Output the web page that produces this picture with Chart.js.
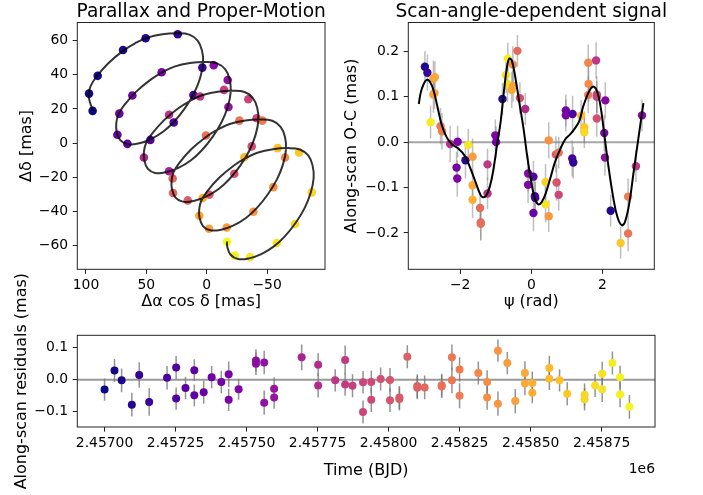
<!DOCTYPE html>
<html><head><meta charset="utf-8">
<script src="https://cdn.jsdelivr.net/npm/chart.js@4.4.1/dist/chart.umd.min.js"></script>
<style>
html,body{margin:0;padding:0;background:#fff;}
#wrap{position:relative;width:703px;height:495px;overflow:hidden;background:#fff;}
canvas{position:absolute;}
</style></head><body>
<div id="wrap">
<canvas id="c1" width="340" height="320" style="left:0;top:0;width:340px;height:320px"></canvas>
<canvas id="c2" width="363" height="320" style="left:340px;top:0;width:363px;height:320px"></canvas>
<canvas id="c3" width="703" height="235" style="left:0;top:260px;width:703px;height:235px"></canvas>
</div>
<script>
// ---------- Panel 1: parallax + proper motion ----------
const pmRA  = [94.5,97.5,90.3,69.3,50.6,24.0,3.6,11.0,27.3,46.7,65.7,74.0,72.4,61.6,37.3,-5.8,-17.4,-18.0,31.2,52.0,31.2,5.5,-14.4,-34.5,-41.4,-37.3,-22.9,-2.2,15.7,27.9,28.2,0.6,-27.1,-46.1,-64.9,-55.2,-38.7,-16.6,-1.9,6.1,3.3,-31.2,-58.8,-76.5,-87.0,-73.2,-58.0,-35.9,-23.2,-16.9];
const pmDec = [18.9,29.0,39.4,54.5,61.4,63.7,44.2,28.2,12.1,1.9,-0.4,4.9,17.3,27.9,41.5,45.6,37.0,21.2,-16.4,-8.4,16.6,27.3,31.2,25.7,14.6,-1.9,-17.9,-30.2,-33.5,-29.2,-20.7,4.5,13.2,13.2,-8.4,-25.7,-40.1,-49.3,-50.1,-42.5,-32.1,-8.2,-2.9,-5.5,-28.8,-47.3,-58.4,-66.6,-65.8,-57.7];
const pmEpochFrac = [0,0.01,0.02,0.035,0.05,0.07,0.10,0.12,0.14,0.16,0.175,0.19,0.21,0.225,0.245,0.28,0.295,0.31,0.365,0.39,0.43,0.45,0.47,0.487,0.504,0.522,0.535,0.557,0.57,0.59,0.60,0.635,0.657,0.67,0.71,0.726,0.74,0.76,0.775,0.79,0.81,0.843,0.865,0.883,0.913,0.93,0.948,0.965,0.983,1.0];
const orbitRA = [93.9,96.7,
 97.8,96.1,91.2,81.5,69.3,59.4,49.7,36.7,24.0,14.4,7.5,3.9,3.0,5.5,10.5,18.0,27.1,35.9,46.4,56.6,65.7,71.8,74.6,
 74.9,73.2,68.3,58.6,46.4,36.5,26.8,13.8,1.1,-8.5,-15.4,-19.0,-19.9,-17.4,-12.4,-4.9,4.2,13.0,23.5,33.7,42.8,48.9,51.7,
 52.0,50.3,45.4,35.7,23.5,13.6,3.9,-9.1,-21.8,-31.4,-38.3,-41.9,-42.8,-40.3,-35.3,-27.8,-18.7,-9.9,0.6,10.8,19.9,26.0,28.8,
 29.1,27.4,22.5,12.8,0.6,-9.3,-19.0,-32.0,-44.7,-54.3,-61.2,-64.8,-65.7,-63.2,-58.2,-50.7,-41.6,-32.8,-22.3,-12.1,-3.0,3.1,5.9,
 6.2,4.5,-0.4,-10.1,-22.3,-32.2,-41.9,-54.9,-67.6,-77.2,-84.1,-87.7,-88.6,-86.1,-81.1,-73.6,-64.5,-55.7,-45.2,-35.0,-25.9,-19.8,-17.0,-16.9];
const orbitDec = [18.9,23.8,
 28.6,33.5,39.0,46.8,54.0,58.4,61.6,63.7,64.3,63.5,60.0,54.2,46.8,38.0,29.2,20.5,12.5,6.8,2.3,-0.2,-0.6,1.9,6.8,
 11.8,16.7,22.2,30.0,37.2,41.6,44.8,46.9,47.5,46.7,43.2,37.4,30.0,21.2,12.4,3.7,-4.3,-10.0,-14.5,-17.0,-17.4,-14.9,-10.0,
 -5.0,-0.1,5.4,13.2,20.4,24.8,28.0,30.1,30.7,29.9,26.4,20.6,13.2,4.4,-4.4,-13.1,-21.1,-26.8,-31.3,-33.8,-34.2,-31.7,-26.8,
 -21.8,-16.9,-11.4,-3.6,3.6,8.0,11.2,13.3,13.9,13.1,9.6,3.8,-3.6,-12.4,-21.2,-29.9,-37.9,-43.6,-48.1,-50.6,-51.0,-48.5,-43.6,
 -38.6,-33.7,-28.2,-20.4,-13.2,-8.8,-5.6,-3.5,-2.9,-3.7,-7.2,-13.0,-20.4,-29.2,-38.0,-46.7,-54.7,-60.4,-64.9,-67.4,-67.8,-65.3,-60.4,-57.5];
const tlXTicks = [100,50,0,-50];
const tlYTicks = [-60,-40,-20,0,20,40,60];

// ---------- Panel 2: scan-angle dependent signal ----------
const psiObs = [-2.99,-2.92,-2.75,-2.71,-2.75,-2.72,-2.83,-2.55,-2.51,
 -2.28,-2.07,-2.10,-2.08,-1.85,-1.77,-1.65,-1.65,-1.65,-1.44,-1.42,-1.42,-1.23,-1.23,-1.01,-0.99,
 -0.81,-0.71,-0.67,-0.66,-0.55,-0.52,-0.51,-0.39,-0.32,-0.17,-0.09,-0.09,0.06,0.10,0.11,0.06,0.40,0.40,0.49,0.49,0.69,0.77,0.71,0.77,0.97,0.97,
 1.16,1.15,1.18,1.40,1.49,1.49,1.60,1.61,1.60,1.82,1.84,1.84,1.84,2.08,2.05,2.07,2.23,2.51,2.72,2.72,2.94,3.11];
const ocObs = [0.166,0.153,0.140,0.143,0.105,0.108,0.044,0.035,0.024,
 -0.004,0.001,-0.056,-0.080,-0.040,-0.006,-0.032,-0.095,-0.127,-0.145,-0.177,-0.180,-0.049,-0.113,0.015,0.000,
 0.095,0.148,0.128,0.184,0.115,0.171,0.124,0.201,0.097,0.073,-0.069,-0.094,-0.076,-0.119,-0.123,-0.156,-0.088,-0.137,0.004,-0.163,-0.027,-0.023,-0.089,-0.116,0.070,0.059,
 0.062,-0.036,-0.045,0.058,0.033,0.022,0.175,0.128,0.104,0.180,0.105,0.100,0.052,0.092,0.020,-0.034,-0.151,-0.222,-0.120,-0.201,-0.053,0.059];
const ocErr = [0.035,0.04,0.04,0.035,0.04,0.035,0.036,0.04,0.04,
 0.04,0.035,0.035,0.04,0.04,0.035,0.04,0.035,0.04,0.035,0.04,0.035,0.035,0.035,0.035,0.035,
 0.035,0.04,0.04,0.035,0.04,0.04,0.035,0.035,0.035,0.035,0.04,0.04,0.035,0.035,0.035,0.04,0.04,0.04,0.04,0.035,0.04,0.035,0.04,0.035,0.035,0.035,
 0.04,0.04,0.035,0.035,0.035,0.035,0.04,0.04,0.04,0.04,0.04,0.035,0.04,0.04,0.04,0.04,0.035,0.035,0.04,0.04,0.035,0.035];
const ocEpochFrac = [0.03,0.08,0.78,0.80,0.76,0.79,0.97,0.66,0.68,
 0.42,0.24,0.22,0.26,0.06,0.96,0.77,0.80,0.82,0.62,0.60,0.63,0.45,0.43,0.25,0.23,
 0.05,0.95,0.93,0.97,0.80,0.72,0.78,0.62,0.52,0.40,0.27,0.26,0.15,0.10,0.12,0.20,0.90,0.95,0.74,0.76,0.56,0.64,0.55,0.50,0.22,0.24,
 0.13,0.11,0.07,0.86,0.88,0.92,0.70,0.72,0.68,0.45,0.50,0.48,0.53,0.27,0.25,0.30,0.05,0.88,0.68,0.65,0.45,0.27];
const psiModel = [-3.16,-3.11,-3.03,-2.94,-2.85,-2.75,-2.64,-2.52,-2.38,-2.24,-2.05,-1.86,-1.72,-1.58,-1.44,-1.37,-1.27,-1.16,-1.07,-0.96,-0.86,-0.77,-0.69,-0.62,-0.55,-0.46,-0.34,-0.22,-0.11,0.01,0.10,0.20,0.29,0.40,0.54,0.66,0.81,0.95,1.09,1.23,1.35,1.46,1.60,1.72,1.82,1.93,2.04,2.16,2.30,2.42,2.54,2.63,2.75,2.88,3.01,3.15];
const ocModel = [0.084,0.108,0.127,0.137,0.133,0.115,0.079,0.039,0.011,-0.004,-0.014,-0.031,-0.056,-0.085,-0.114,-0.121,-0.118,-0.096,-0.063,-0.005,0.046,0.111,0.162,0.184,0.180,0.148,0.089,0.031,-0.034,-0.092,-0.125,-0.137,-0.132,-0.114,-0.078,-0.045,-0.016,0.006,0.017,0.031,0.047,0.079,0.108,0.122,0.117,0.086,0.024,-0.049,-0.121,-0.165,-0.183,-0.176,-0.136,-0.063,0.009,0.086];
const trXTicks = [-2,0,2];
const trYTicks = [-0.2,-0.1,0,0.1,0.2];

// ---------- Panel 3: residuals vs time ----------
const timeBJD = [2457000,2457035,2457060,2457096,2457122,2457157,2457220,2457252,2457252,2457285,2457316,2457316,2457349,2457377,2457411,2457437,2457437,2457472,2457533,2457533,2457562,2457562,2457597,2457597,2457694,2457752,2457752,2457812,2457847,2457847,2457873,2457910,2457910,2457939,2457939,2457972,2458005,2458005,2458038,2458038,2458066,2458101,2458101,2458127,2458187,2458187,2458223,2458223,2458250,2458250,2458316,2458347,2458347,2458385,2458385,2458418,2458446,2458480,2458480,2458506,2458506,2458566,2458566,2458602,2458629,2458690,2458690,2458727,2458752,2458752,2458788,2458815,2458815,2458848];
const resid = [-0.031,0.029,-0.002,-0.078,0.015,-0.070,0.006,0.038,-0.059,-0.026,0.030,-0.049,-0.039,0.008,-0.007,0.017,-0.063,-0.030,0.060,0.050,0.054,-0.072,-0.028,-0.056,0.070,0.047,-0.018,-0.002,0.062,-0.015,-0.019,-0.008,-0.101,-0.007,-0.063,0.002,-0.001,-0.064,-0.056,-0.060,0.072,-0.020,-0.025,-0.024,-0.017,-0.021,0.070,-0.002,0.032,-0.050,0.021,-0.007,-0.056,0.091,-0.075,0.052,-0.067,0.021,-0.012,-0.010,-0.041,0.037,0.003,-0.002,-0.044,-0.047,-0.061,-0.018,0.019,-0.030,0.052,0.008,-0.046,-0.085];
const residErr = [0.035,0.036,0.037,0.037,0.04,0.043,0.037,0.036,0.035,0.035,0.034,0.034,0.036,0.035,0.035,0.04,0.035,0.033,0.035,0.035,0.037,0.038,0.036,0.035,0.04,0.036,0.038,0.035,0.045,0.035,0.036,0.035,0.036,0.036,0.038,0.036,0.038,0.037,0.036,0.036,0.036,0.037,0.036,0.037,0.036,0.036,0.04,0.04,0.038,0.039,0.036,0.037,0.038,0.035,0.038,0.035,0.038,0.037,0.037,0.036,0.033,0.038,0.035,0.035,0.036,0.035,0.035,0.036,0.037,0.04,0.036,0.036,0.04,0.037];
const bXTicks = [2457000,2457250,2457500,2457750,2458000,2458250,2458500,2458750];
const bYTicks = [-0.1,0,0.1];

// ---------- helpers ----------
const PLASMA = [[13,8,135],[76,2,161],[126,3,168],[169,35,149],[204,71,120],[230,108,92],[248,149,64],[253,197,39],[240,249,33]];
function plasma(f){
  f = Math.max(0, Math.min(1, f));
  const p = f * 8, i = Math.min(7, Math.floor(p)), r = p - i;
  const a = PLASMA[i], b = PLASMA[i+1];
  return 'rgb(' + [0,1,2].map(k => Math.round(a[k] + (b[k]-a[k])*r)).join(',') + ')';
}
function fmt(dec){ return v => (v < -1e-9 ? '\u2212' : '') + Math.abs(v).toFixed(dec); }
const FONT = "'DejaVu Sans', 'Liberation Sans', sans-serif";
Chart.defaults.font.family = FONT;
Chart.defaults.color = '#000';
const SPINE = '#222';
const TICK_FONT = {size: 13.9};
const LABEL_FONT = {size: 16};

function makeScale(o){
  return {
    type: 'linear', min: o.min, max: o.max, reverse: !!o.reverse,
    afterBuildTicks: s => { s.ticks = o.ticks.map(v => ({value: v})); },
    afterFit: s => { if (o.axis === 'x') s.height = o.size; else s.width = o.size; },
    ticks: {font: TICK_FONT, color: '#000', padding: o.axis === 'x' ? 3 : 4.6, autoSkip: false, maxRotation: 0, minRotation: 0, callback: o.fmt},
    grid: {display: true, drawOnChartArea: false, drawTicks: true, tickLength: 4.6, tickColor: SPINE, tickWidth: 1},
    border: {display: false},
    title: o.title ? {display: true, text: o.title, font: LABEL_FONT, color: '#000', padding: o.titlePad} : {display: false}
  };
}
const framePlugin = {
  id: 'frame',
  afterDraw(chart){
    const {ctx, chartArea: a} = chart;
    ctx.save(); ctx.strokeStyle = SPINE; ctx.lineWidth = 1;
    ctx.strokeRect(a.left, a.top, a.right - a.left, a.bottom - a.top);
    ctx.restore();
  }
};
function titlePlugin(text){
  return { id: 'ptitle', afterDraw(chart){
    const {ctx, chartArea: a} = chart;
    ctx.save(); ctx.font = '18.6px ' + FONT; ctx.fillStyle = '#000';
    ctx.textAlign = 'center'; ctx.textBaseline = 'alphabetic';
    ctx.fillText(text, (a.left + a.right) / 2, 16.5);
    ctx.restore();
  }};
}
function zeroLinePlugin(color, width){
  return { id: 'zline', beforeDatasetsDraw(chart){
    const {ctx, chartArea: a, scales} = chart;
    const y = scales.y.getPixelForValue(0);
    ctx.save(); ctx.strokeStyle = color; ctx.lineWidth = width;
    ctx.beginPath(); ctx.moveTo(a.left, y); ctx.lineTo(a.right, y); ctx.stroke();
    ctx.restore();
  }};
}
function errPlugin(dsIndex, errs, color, width){
  return { id: 'errbars', beforeDatasetsDraw(chart){
    const {ctx, chartArea: a, scales} = chart;
    const ds = chart.data.datasets[dsIndex];
    ctx.save();
    ctx.beginPath(); ctx.rect(a.left, a.top, a.right - a.left, a.bottom - a.top); ctx.clip();
    ctx.strokeStyle = color; ctx.lineWidth = width;
    ds.data.forEach((p, i) => {
      const px = scales.x.getPixelForValue(p.x);
      ctx.beginPath();
      ctx.moveTo(px, scales.y.getPixelForValue(p.y - errs[i]));
      ctx.lineTo(px, scales.y.getPixelForValue(p.y + errs[i]));
      ctx.stroke();
    });
    ctx.restore();
  }};
}
const baseOpts = {responsive: false, animation: false, events: [], plugins: {legend: {display: false}, tooltip: {enabled: false}}};

// ---------- Chart 1 ----------
new Chart(document.getElementById('c1'), {
  type: 'scatter',
  data: {datasets: [
    {data: orbitRA.map((x, i) => ({x, y: orbitDec[i]})), showLine: true, borderColor: 'rgba(0,0,0,0.8)', borderWidth: 2, pointRadius: 0, tension: 0.4, fill: false},
    {data: pmRA.map((x, i) => ({x, y: pmDec[i]})), showLine: false, pointRadius: 4.3, pointBorderWidth: 0, pointBackgroundColor: pmEpochFrac.map(plasma)}
  ]},
  options: Object.assign({}, baseOpts, {
    layout: {padding: {left: 0, right: 15, top: 22.5, bottom: 0}},
    scales: {
      x: makeScale({axis: 'x', min: -98.0, max: 107.2, reverse: true, ticks: tlXTicks, size: 50.7, fmt: fmt(0), title: 'Δα cos δ [mas]', titlePad: {top: 0, bottom: 8.5}}),
      y: makeScale({axis: 'y', min: -73.8, max: 70.6, ticks: tlYTicks, size: 77.3, fmt: fmt(0), title: 'Δδ [mas]', titlePad: {top: 17.4, bottom: 0}})
    }
  }),
  plugins: [framePlugin, titlePlugin('Parallax and Proper-Motion')]
});

// ---------- Chart 2 ----------
new Chart(document.getElementById('c2'), {
  type: 'scatter',
  data: {datasets: [
    {data: psiModel.map((x, i) => ({x, y: ocModel[i]})), showLine: true, borderColor: '#000', borderWidth: 2, pointRadius: 0, tension: 0.4, fill: false},
    {data: psiObs.map((x, i) => ({x, y: ocObs[i]})), showLine: false, pointRadius: 4.2, pointBorderWidth: 0, pointBackgroundColor: ocEpochFrac.map(plasma)}
  ]},
  options: Object.assign({}, baseOpts, {
    layout: {padding: {left: 0, right: 48.7, top: 22.5, bottom: 0}},
    scales: {
      x: makeScale({axis: 'x', min: -3.456, max: 3.456, ticks: trXTicks, size: 50.7, fmt: fmt(0), title: 'ψ (rad)', titlePad: {top: 0, bottom: 8.5}}),
      y: makeScale({axis: 'y', min: -0.280, max: 0.2635, ticks: trYTicks, size: 68.3, fmt: fmt(1), title: 'Along-scan O-C (mas)', titlePad: {top: 2.4, bottom: 0}})
    }
  }),
  plugins: [framePlugin, zeroLinePlugin('rgba(128,128,128,0.7)', 2), errPlugin(1, ocErr, 'rgba(128,128,128,0.5)', 1.5), titlePlugin('Scan-angle-dependent signal')]
});

// ---------- Chart 3 ----------
const t0 = timeBJD[0], t1 = timeBJD[timeBJD.length - 1];
const ylabel3 = {
  id: 'ylabel3', afterDraw(chart){
    const {ctx, chartArea: a} = chart;
    ctx.save(); ctx.font = '16px ' + FONT; ctx.fillStyle = '#000';
    ctx.translate(21.7, (a.top + a.bottom) / 2); ctx.rotate(-Math.PI / 2);
    ctx.textAlign = 'center'; ctx.textBaseline = 'middle';
    ctx.fillText('Along-scan residuals (mas)', 0, 0);
    ctx.restore();
    ctx.save(); ctx.font = '13.9px ' + FONT; ctx.fillStyle = '#000';
    ctx.textAlign = 'right'; ctx.textBaseline = 'middle';
    ctx.fillText('1e6', a.right, a.bottom + 42);
    ctx.restore();
  }
};
new Chart(document.getElementById('c3'), {
  type: 'scatter',
  data: {datasets: [
    {data: timeBJD.map((x, i) => ({x, y: resid[i]})), showLine: false, pointRadius: 4, pointBorderWidth: 0, pointBackgroundColor: timeBJD.map(t => plasma((t - t0) / (t1 - t0)))}
  ]},
  options: Object.assign({}, baseOpts, {
    layout: {padding: {left: 0, right: 48, top: 75.3, bottom: 0}},
    scales: {
      x: makeScale({axis: 'x', min: 2456904, max: 2458938, ticks: bXTicks, size: 68, fmt: v => (v / 1e6).toFixed(5), title: 'Time (BJD)', titlePad: {top: 0, bottom: 14.4}}),
      y: makeScale({axis: 'y', min: -0.148, max: 0.139, ticks: bYTicks, size: 77.3, fmt: fmt(1)})
    }
  }),
  plugins: [framePlugin, zeroLinePlugin('rgba(128,128,128,0.8)', 2), errPlugin(0, residErr, 'rgba(120,120,120,0.8)', 1.5), ylabel3]
});
</script>
</body></html>
